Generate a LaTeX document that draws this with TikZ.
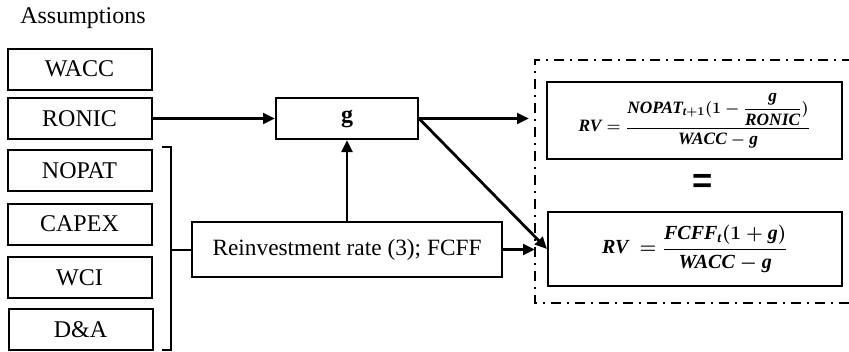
\documentclass[tikz,border=0pt]{standalone}
\usepackage{amsmath}
\usepackage{fontspec}
\setmainfont{Liberation Serif}
\newfontfamily\eqsignfont{Liberation Sans}
\newcommand{\bv}[1]{\text{\bfseries\itshape #1}}
\usetikzlibrary{arrows.meta}

\tikzset{every picture/.style={line width=0.75pt}}
\tikzset{
  box/.style={draw, line width=1.5pt, inner sep=0pt, minimum width=108pt, minimum height=30.75pt, font=\fontsize{18}{20}\selectfont},
  eqbox/.style={draw, line width=1.5pt, inner sep=0pt},
  link/.style={line width=2.1pt, -{Triangle[length=9pt,width=8pt]}},
  frameline/.style={line width=1.5pt, dash pattern={on 7.5pt off 4.5pt on 1.5pt off 4.5pt}}
}

\begin{document}
\begin{tikzpicture}[x=0.75pt,y=0.75pt,yscale=-1,xscale=1]
\useasboundingbox (0,0) rectangle (849,351);

% Text Node
\node (assum) at (83,18) [font=\fontsize{18}{20}\selectfont] {Assumptions};
% Text Node
\node (wacc) at (79.5,69) [box] {WACC};
% Text Node
\node (ronic) at (79.5,118.5) [box] {RONIC};
% Text Node
\node (nopat) at (79.5,170.5) [box] {NOPAT};
% Text Node
\node (capex) at (79.5,224) [box] {CAPEX};
% Text Node
\node (wci) at (79.5,277.5) [box] {WCI};
% Text Node
\node (da) at (80.5,329.5) [box] {D\&A};

% Text Node
\node (g) at (347,118.5) [box, minimum width=106.5pt] {\textbf{g}};
% Text Node
\node (reinv) at (347,249.5) [box, minimum width=232.5pt, minimum height=41.25pt, font=\fontsize{17.5}{20}\selectfont] {Reinvestment rate (3); FCFF};

% Text Node
\node (rvone) at (694.5,120.5) [eqbox, minimum width=221.25pt, minimum height=57.75pt, font=\fontsize{13}{15}\selectfont\boldmath] {$\displaystyle \bv{RV}=\frac{\bv{NOPAT}_{\bv{t}+\mathbf{1}}(\mathbf{1}-\dfrac{\bv{g}}{\bv{RONIC}})}{\bv{WACC}-\bv{g}}$};
% Text Node
\node (eq) at (703,183) [font=\fontsize{26}{26}\selectfont\eqsignfont\bfseries] {=};
% Text Node
\node (rvtwo) at (695,249) [eqbox, minimum width=220.5pt, minimum height=55.5pt, font=\fontsize{15}{18}\selectfont\boldmath] {$\displaystyle \bv{RV}\ =\frac{\bv{FCFF}_{\bv{t}}(\mathbf{1}+\bv{g})}{\bv{WACC}-\bv{g}}$};

%Shape: Frame
\draw [frameline] (852,60) -| (535,303) -- (852,303);

%Shape: Bracket
\coordinate (brtop) at (171,147);
\coordinate (brbot) at (171,350);
\coordinate (brmid) at (171,249.5);
\draw [line width=1.5pt] (162,147) -- (brtop) -- (brbot) -- (162,350);
\draw [line width=1.5pt] (brmid) -- (reinv.west);

%Straight Lines
\coordinate (ina) at (529,118.5);
\coordinate (inb) at (535,249.5);
\draw [link] (ronic.east) -- (g.west);
\draw [link] (reinv.north) -- (g.south);
\draw [link] (g.east) -- (ina);
\draw [link] (g.east) -- (rvtwo.west);
\draw [link] (reinv.east) -- (inb);

\end{tikzpicture}
\end{document}
